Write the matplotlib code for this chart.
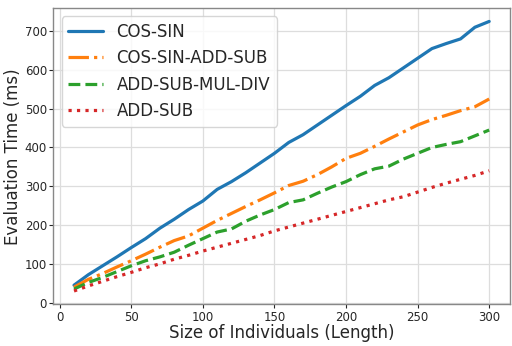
import numpy as np
import matplotlib
matplotlib.use("Agg")
import matplotlib.pyplot as plt

plt.style.use("seaborn-v0_8-whitegrid")
plt.rcParams["font.family"] = ["DejaVu Sans"]

sizes = list(range(10, 301, 10))

cos_sin = [45, 72, 95, 118, 142, 165, 192, 215, 240, 262,
           292, 312, 335, 360, 385, 413, 433, 458, 483, 508,
           532, 560, 580, 605, 630, 655, 668, 680, 710, 725]
cos_sin_add_sub = [40, 60, 75, 92, 108, 125, 143, 160, 172, 192,
                   212, 230, 248, 265, 283, 302, 313, 330, 350, 372,
                   385, 403, 422, 440, 458, 472, 483, 495, 505, 525]
add_sub_mul_div = [35, 52, 65, 80, 95, 108, 118, 130, 148, 165,
                   182, 190, 210, 226, 240, 258, 265, 282, 298, 312,
                   330, 345, 352, 370, 385, 400, 408, 415, 430, 445]
add_sub = [30, 43, 55, 67, 78, 90, 100, 112, 122, 133,
           143, 153, 163, 173, 185, 195, 205, 215, 225, 235,
           245, 255, 265, 273, 285, 297, 308, 318, 328, 340]

fig, ax = plt.subplots(figsize=(5.12, 3.46), dpi=100)
fig.subplots_adjust(left=0.104, right=0.996, top=0.977, bottom=0.12)

ax.plot(sizes, cos_sin, "-", color="#1f77b4", lw=2.3, label="COS-SIN")
ax.plot(sizes, cos_sin_add_sub, "-.", color="#ff7f0e", lw=2.3, label="COS-SIN-ADD-SUB")
ax.plot(sizes, add_sub_mul_div, "--", color="#2ca02c", lw=2.3, label="ADD-SUB-MUL-DIV")
ax.plot(sizes, add_sub, ":", color="#d62728", lw=2.3, label="ADD-SUB")

ax.set_xlabel("Size of Individuals (Length)", fontsize=12, labelpad=0)
ax.set_ylabel("Evaluation Time (ms)", fontsize=12, labelpad=2)
ax.tick_params(labelsize=8.5, left=True, bottom=True, length=3, pad=1.5)
ax.grid(color="#dddddd", lw=0.9)
for s in ax.spines.values():
    s.set_visible(True)
    s.set_color("#888888")
ax.legend(fontsize=12, frameon=True, loc="upper left", handlelength=2.1,
          borderaxespad=0.5)

fig.savefig("out.png", dpi=100)
